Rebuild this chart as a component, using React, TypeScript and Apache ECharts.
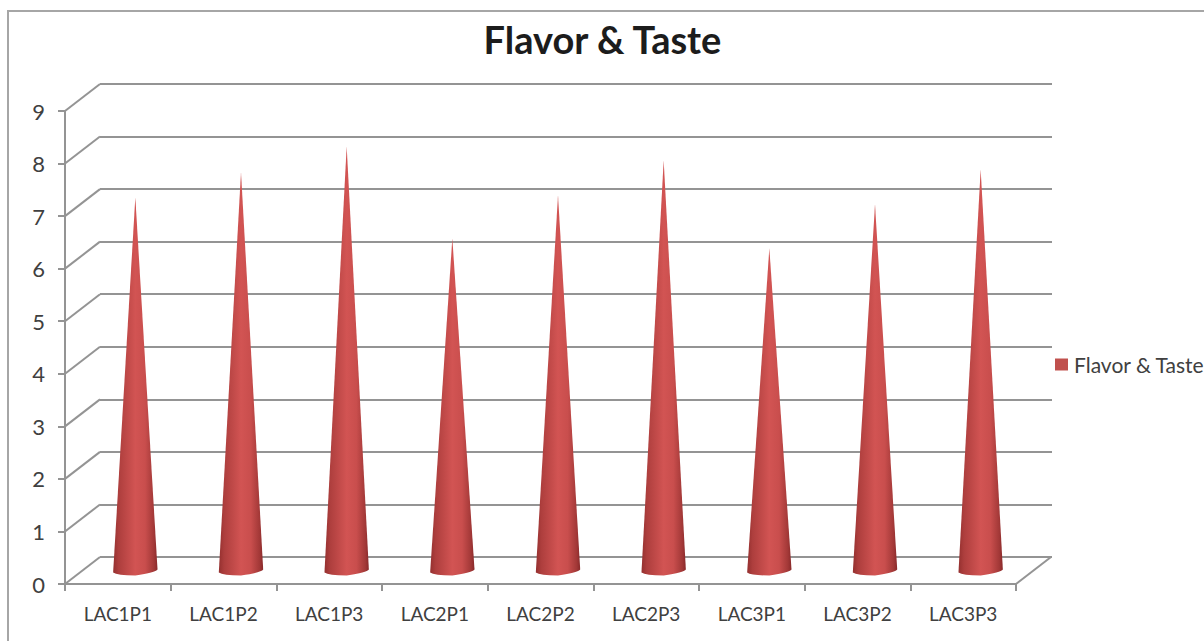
import React, { useEffect, useRef } from "react";
import * as echarts from "echarts";

const categories = ["LAC1P1", "LAC1P2", "LAC1P3", "LAC2P1", "LAC2P2", "LAC2P3", "LAC3P1", "LAC3P2", "LAC3P3"];
const seriesName = "Flavor & Taste";
const values = [7.1, 7.58, 8.07, 6.32, 7.14, 7.8, 6.13, 6.97, 7.63];
const yTicks = [0, 1, 2, 3, 4, 5, 6, 7, 8, 9];

const FONT = "Lato";
const GRID_COLOR = "#949494";
const DX = 35;
const DY = -27;

const coneFill = new echarts.graphic.LinearGradient(0, 0, 1, 0, [
  { offset: 0, color: "#94302f" },
  { offset: 0.12, color: "#ad3e3d" },
  { offset: 0.5, color: "#d25453" },
  { offset: 0.72, color: "#c94e4d" },
  { offset: 0.92, color: "#a23837" },
  { offset: 1, color: "#88292a" },
]);

export default function App() {
  const ref = useRef<HTMLDivElement>(null);
  useEffect(() => {
    const chart = echarts.init(ref.current!, null, { renderer: "svg" });
    const yAxisBase = { type: "value", min: 0, max: 9, interval: 1 };
    chart.setOption({
      animation: false,
      backgroundColor: "#ffffff",
      title: {
        text: seriesName,
        left: 597.5,
        top: 15,
        textAlign: "center",
        textStyle: { fontFamily: FONT, fontWeight: "bold", fontSize: 38, color: "#1c1c1c" },
      },
      legend: {
        data: [seriesName],
        left: 1050,
        top: 349,
        itemWidth: 13,
        itemHeight: 12,
        itemGap: 0,
        icon: "rect",
        textStyle: { fontFamily: FONT, fontSize: 21, color: "#404040", padding: [0, 0, 0, 1] },
      },
      graphic: [
        {
          type: "rect",
          z: -1,
          shape: { x: 8, y: 11, width: 1230, height: 660 },
          style: { fill: "none", stroke: "#a6a6a6", lineWidth: 2 },
        },
      ],
      grid: [
        { left: 65, top: 111, width: 951, height: 473 },
        { left: 100, top: 84, width: 952, height: 473 },
        { left: 82.5, top: 97.5, width: 951, height: 473 },
      ],
      xAxis: [
        {
          type: "category",
          gridIndex: 0,
          data: categories,
          axisLine: { lineStyle: { color: GRID_COLOR, width: 2 } },
          axisTick: { show: true, alignWithLabel: false, length: 7, lineStyle: { color: GRID_COLOR, width: 2 } },
          axisLabel: { fontFamily: FONT, fontSize: 19, color: "#404040", margin: 20 },
          splitLine: { show: false },
        },
        { type: "category", gridIndex: 1, data: categories, show: false },
        { type: "category", gridIndex: 2, data: categories, show: false },
      ],
      yAxis: [
        {
          ...yAxisBase,
          gridIndex: 0,
          axisLine: { show: true, lineStyle: { color: GRID_COLOR, width: 2 } },
          axisTick: { show: true, length: 7, lineStyle: { color: GRID_COLOR, width: 2 } },
          axisLabel: { fontFamily: FONT, fontSize: 22, color: "#404040", margin: 20 },
          splitLine: { show: false },
        },
        {
          ...yAxisBase,
          gridIndex: 1,
          axisLine: { show: false },
          axisTick: { show: false },
          axisLabel: { show: false },
          splitLine: { show: true, lineStyle: { color: GRID_COLOR, width: 2 } },
        },
        {
          ...yAxisBase,
          gridIndex: 2,
          axisLine: { show: false },
          axisTick: { show: false },
          axisLabel: { show: false },
          splitLine: { show: false },
        },
      ],
      series: [
        {
          type: "custom",
          name: "walls",
          xAxisIndex: 0,
          yAxisIndex: 0,
          coordinateSystem: "cartesian2d",
          silent: true,
          z: 1,
          data: yTicks.map((v) => [0, v]),
          encode: { x: 0, y: 1 },
          renderItem: (params: any, api: any) => {
            const left = params.coordSys.x;
            const y = api.coord([0, api.value(1)])[1];
            return {
              type: "line",
              shape: { x1: left, y1: y, x2: left + DX, y2: y + DY },
              style: { stroke: GRID_COLOR, lineWidth: 2, fill: "none" },
            };
          },
        },
        {
          type: "custom",
          name: "floorEdge",
          xAxisIndex: 0,
          yAxisIndex: 0,
          coordinateSystem: "cartesian2d",
          silent: true,
          z: 1,
          data: [[0, 0]],
          encode: { x: 0, y: 1 },
          renderItem: (params: any, api: any) => {
            const right = params.coordSys.x + params.coordSys.width;
            const y = api.coord([0, 0])[1];
            return {
              type: "line",
              shape: { x1: right, y1: y, x2: right + DX, y2: y + DY },
              style: { stroke: GRID_COLOR, lineWidth: 2, fill: "none" },
            };
          },
        },
        {
          type: "custom",
          name: seriesName,
          xAxisIndex: 2,
          yAxisIndex: 2,
          coordinateSystem: "cartesian2d",
          itemStyle: { color: "#c0504d" },
          z: 3,
          data: values.map((v, i) => [i, v]),
          encode: { x: 0, y: 1 },
          renderItem: (_params: any, api: any) => {
            const top = api.coord([api.value(0), api.value(1)]);
            const base = api.coord([api.value(0), 0]);
            const hw = api.size([1, 0])[0] * 0.21;
            const cx = base[0];
            const cy = base[1];
            const l = cx - hw;
            const r = cx + hw;
            const d =
              `M${l} ${cy + 2} L${cx} ${top[1]} L${r} ${cy - 1} ` +
              `Q${r - 2} ${cy + 2} ${cx} ${cy + 5} Q${l + 4} ${cy + 5} ${l} ${cy + 2} Z`;
            return {
              type: "path",
              shape: { pathData: d, layout: "center", x: l, y: top[1], width: r - l, height: cy + 5 - top[1] },
              style: { fill: coneFill },
            };
          },
        },
      ],
    });
    return () => chart.dispose();
  }, []);
  return <div ref={ref} style={{ position: "fixed", left: 0, top: 0, width: 1204, height: 641 }} />;
}
